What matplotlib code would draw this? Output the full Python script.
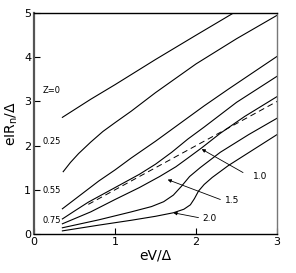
import matplotlib
matplotlib.use("Agg")
import matplotlib.pyplot as plt

# curves: x = eV/Delta, y = eIRn/Delta
x_z0 = [0.35, 0.7, 1.0, 1.5, 2.0, 2.46]
y_z0 = [2.64, 3.05, 3.38, 3.95, 4.5, 5.0]

x_z025 = [0.36, 0.45, 0.55, 0.7, 0.85, 1.0, 1.2, 1.5, 2.0, 2.5, 3.0]
y_z025 = [1.41, 1.62, 1.82, 2.08, 2.32, 2.52, 2.78, 3.2, 3.85, 4.42, 4.95]

x_z055 = [0.35, 0.6, 0.8, 1.0, 1.2, 1.5, 1.8, 2.1, 2.4, 2.7, 3.0]
y_z055 = [0.57, 0.92, 1.2, 1.45, 1.72, 2.1, 2.5, 2.9, 3.28, 3.65, 4.02]

x_z075 = [0.35, 0.5, 0.67, 1.0, 1.3, 1.5, 1.7, 1.9, 2.1, 2.5, 3.0]
y_z075 = [0.34, 0.52, 0.72, 1.05, 1.35, 1.58, 1.85, 2.15, 2.42, 2.98, 3.57]

x_z10 = [0.35, 0.7, 1.0, 1.3, 1.55, 1.75, 1.9, 2.07, 2.3, 2.6, 3.0]
y_z10 = [0.23, 0.5, 0.78, 1.05, 1.3, 1.52, 1.72, 1.95, 2.28, 2.66, 3.11]

x_z15 = [0.35, 0.8, 1.2, 1.45, 1.6, 1.72, 1.82, 1.92, 2.05, 2.3, 2.65, 3.0]
y_z15 = [0.14, 0.32, 0.5, 0.62, 0.73, 0.88, 1.08, 1.3, 1.5, 1.85, 2.25, 2.62]

x_z20 = [0.35, 0.8, 1.2, 1.5, 1.72, 1.85, 1.93, 1.98, 2.03, 2.1, 2.2, 2.4, 2.7, 3.0]
y_z20 = [0.07, 0.2, 0.31, 0.4, 0.48, 0.56, 0.66, 0.8, 0.97, 1.12, 1.28, 1.55, 1.9, 2.25]

x_ohm = [0.67, 3.0]
y_ohm = [0.67, 3.0]

curves = [(x_z0, y_z0), (x_z025, y_z025), (x_z055, y_z055), (x_z075, y_z075),
          (x_z10, y_z10), (x_z15, y_z15), (x_z20, y_z20)]

# left labels: (text, x, y); right labels: (text, text pos, arrow tail, arrow tip)
left_labels = [("Z=0", 0.11, 3.25), ("0.25", 0.11, 2.1),
               ("0.55", 0.11, 0.98), ("0.75", 0.11, 0.3)]
arrow_labels = [("1.0", (2.7, 1.3), (2.58, 1.39), (2.07, 1.92)),
                ("1.5", (2.36, 0.75), (2.3, 0.78), (1.65, 1.23)),
                ("2.0", (2.08, 0.34), (2.03, 0.37), (1.72, 0.48))]

plt.rcParams["font.family"] = ["Liberation Sans Narrow", "DejaVu Sans"]

fig = plt.figure(figsize=(2.96, 2.73), dpi=100)
ax = fig.add_axes([0.115, 0.143, 0.821, 0.809])

for xs, ys in curves:
    ax.plot(xs, ys, color="black", linewidth=0.8)
ax.plot(x_ohm, y_ohm, color="black", linewidth=0.7, linestyle=(0, (6, 4)))

for txt, x, y in left_labels:
    ax.text(x, y, txt, fontsize=6, ha="left", va="center")
for txt, tpos, tail, tip in arrow_labels:
    ax.text(tpos[0], tpos[1], txt, fontsize=6.5, ha="left", va="center")
    ax.annotate("", xy=tip, xytext=tail,
                arrowprops=dict(arrowstyle="-|>", color="black", lw=0.6,
                                mutation_scale=5, shrinkA=0, shrinkB=0))

ax.set_xlim(0, 3)
ax.set_ylim(0, 5)
ax.set_xticks([0, 1, 2, 3])
ax.set_yticks([0, 1, 2, 3, 4, 5])
ax.tick_params(direction="in", length=4, width=0.8, labelsize=8, pad=2)
for sp in ax.spines.values():
    sp.set_linewidth(1.0)
ax.spines["left"].set_color("#555555")
ax.spines["left"].set_linewidth(1.6)
ax.spines["right"].set_color("#777777")

ax.set_xlabel("eV/\u0394", fontsize=10, labelpad=1)
ax.set_ylabel("eIR$_{\\rm n}$/\u0394", fontsize=10, labelpad=3)

fig.savefig("out.png", dpi=100)
